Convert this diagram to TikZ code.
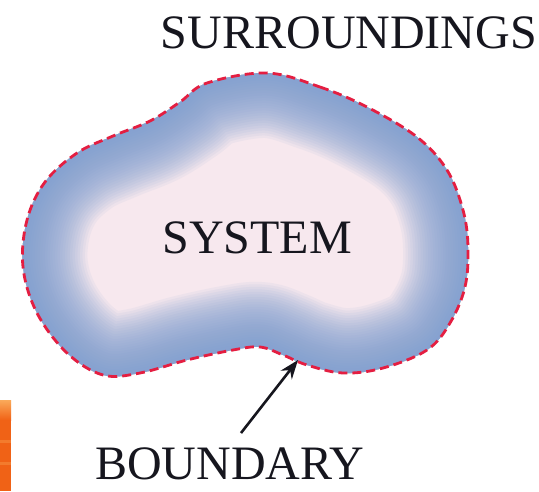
\documentclass[tikz,border=0pt]{standalone}
\usepackage{fontspec}
\setmainfont{Liberation Serif}
\usetikzlibrary{arrows.meta}
\definecolor{edgeblue}{RGB}{125,158,208}
\definecolor{centerpink}{RGB}{247,232,238}
\definecolor{dashred}{RGB}{228,30,65}
\definecolor{inkdark}{RGB}{22,22,30}
\definecolor{slideorange}{RGB}{240,98,22}
\definecolor{slidelight}{RGB}{250,170,90}
\tikzset{
  label text/.style={font=\fontsize{48}{50}\selectfont, text=inkdark, inner sep=0pt},
  boundary line/.style={draw=dashred, line width=2.8pt, dash pattern=on 9pt off 5pt},
  pointer/.style={draw=inkdark, line width=2.6pt, -{Stealth[length=19pt,width=14pt]}}
}
\def\blobpath{plot[smooth cycle, tension=0.6] coordinates{
 (267,73) (320,87) (367,107) (417,137) (447,170) (463,210) (468,247) (465,287)
 (450,323) (427,350) (383,368) (343,373) (307,365) (283,355) (260,347) (233,350)
 (187,360) (140,373) (103,375) (67,353) (37,313) (23,267) (27,220) (45,182)
 (77,153) (113,136) (150,121) (180,102) (207,83)}}
\begin{document}
\begin{tikzpicture}[x=1pt,y=-1pt]
\useasboundingbox (0,0) rectangle (539,491);
\fill[white] (0,0) rectangle (539,491);
% orange fragment of the slide at bottom left
\shade[top color=slidelight, bottom color=slideorange] (0,400) rectangle (11,420);
\fill[slideorange] (0,420) rectangle (11,491);
\fill[slidelight, opacity=0.35] (0,440) rectangle (11,443);
\fill[slidelight, opacity=0.35] (0,462) rectangle (11,465);
% system blob with shading
\begin{scope}
  \clip \blobpath;
  \fill[centerpink] (0,0) rectangle (539,491);
  \foreach \w in {5,10,...,130}{
    \draw[edgeblue, line width=\w pt, opacity=0.08, line join=round] \blobpath;
  }
\end{scope}
\draw[boundary line] \blobpath;
% labels
\node[label text, anchor=base] (surr) at (349,48) {SURROUNDINGS};
\node[label text, anchor=base] (sys) at (257,253) {SYSTEM};
\node[label text, anchor=base] (bound) at (230,479) {BOUNDARY};
% arrow to boundary
\coordinate (tail) at (241,433);
\coordinate (tip) at (298,360);
\draw[pointer] (tail) -- (tip);
\end{tikzpicture}
\end{document}
